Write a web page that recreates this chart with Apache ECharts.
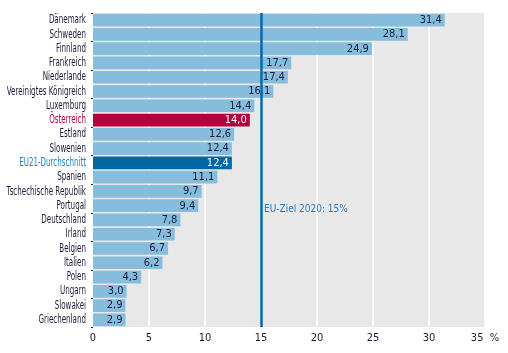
<!DOCTYPE html>
<html><head><meta charset="utf-8">
<script src="https://cdn.jsdelivr.net/npm/echarts@6/dist/echarts.min.js"></script>
<style>html,body{margin:0;padding:0;background:#fff}#c{width:508px;height:353px}</style>
</head><body><div id="c"></div>
<script>
const categories = ["Dänemark","Schweden","Finnland","Frankreich","Niederlande","Vereinigtes Königreich","Luxemburg","Österreich","Estland","Slowenien","EU21-Durchschnitt","Spanien","Tschechische Republik","Portugal","Deutschland","Irland","Belgien","Italien","Polen","Ungarn","Slowakei","Griechenland"];
const values = [31.4,28.1,24.9,17.7,17.4,16.1,14.4,14.0,12.6,12.4,12.4,11.1,9.7,9.4,7.8,7.3,6.7,6.2,4.3,3.0,2.9,2.9];
const xTicks = [0,5,10,15,20,25,30,35];
const target = 15;
const targetLabel = "EU-Ziel 2020: 15%";

const FONT = "'DejaVu Sans'";
const FS = 'condensed';
const TXT = "#1b1b3a";
const colorFor = c => c === "Österreich" ? "#b4003c" : (c === "EU21-Durchschnitt" ? "#0067a5" : "#86bddc");
const labelColorFor = c => c === "Österreich" ? "#b4003c" : (c === "EU21-Durchschnitt" ? "#1f7fc0" : TXT);

const chart = echarts.init(document.getElementById('c'));
chart.setOption({
  animation:false,
  grid:{left:93,right:23,top:13,bottom:26,show:true,backgroundColor:'#e8e8e8',borderWidth:0,outerBoundsMode:'none',containLabel:false},
  xAxis:{type:'value',min:0,max:35,interval:5,
    axisLine:{show:false},axisTick:{show:false},
    splitLine:{lineStyle:{color:'#ffffff',width:1.5}},
    axisLabel:{color:TXT,fontFamily:FONT,fontStyle:FS,fontSize:11,margin:6,
      formatter:v=> xTicks.indexOf(v)>=0 ? (v===35 ? '35  %' : String(v)) : ''}
  },
  yAxis:{type:'category',inverse:true,data:categories,
    axisLine:{show:false},axisTick:{show:true,length:2,lineStyle:{color:'#222'}},
    axisLabel:{show:false}
  },
  series:[{type:'bar',barCategoryGap:'11%',
    data:values.map((v,i)=>({value:v,itemStyle:{color:colorFor(categories[i])},
      label:{color:categories[i]==="Österreich"||categories[i]==="EU21-Durchschnitt"?'#ffffff':TXT}})),
    label:{show:true,position:'insideRight',distance:3,fontFamily:FONT,fontStyle:FS,fontSize:11,
      formatter:p=>p.value.toFixed(1).replace('.',',')},
    markLine:{silent:true,symbol:'none',
      lineStyle:{color:'#0068b0',width:2.5,type:'solid'},
      label:{show:false},
      data:[{xAxis:target}]},
    markPoint:{symbol:'circle',symbolSize:0,
      label:{show:true,position:'right',distance:3,color:'#2a7cc0',fontFamily:FONT,fontStyle:FS,fontSize:10,formatter:targetLabel,offset:[0,4]},
      data:[{coord:[target,'Portugal']}]}
  }]
});
// category labels as horizontally condensed text, placed through the category axis scale
const left = chart.convertToPixel({xAxisIndex:0}, 0);
chart.setOption({graphic: categories.map(c => ({
  type:'text', x: left - 7, y: chart.convertToPixel({yAxisIndex:0}, c), scaleX:0.66,
  silent:true,
  style:{text:c, fill:labelColorFor(c), align:'right', verticalAlign:'middle',
    font: FS + ' normal 12px ' + FONT}
}))});
</script></body></html>
